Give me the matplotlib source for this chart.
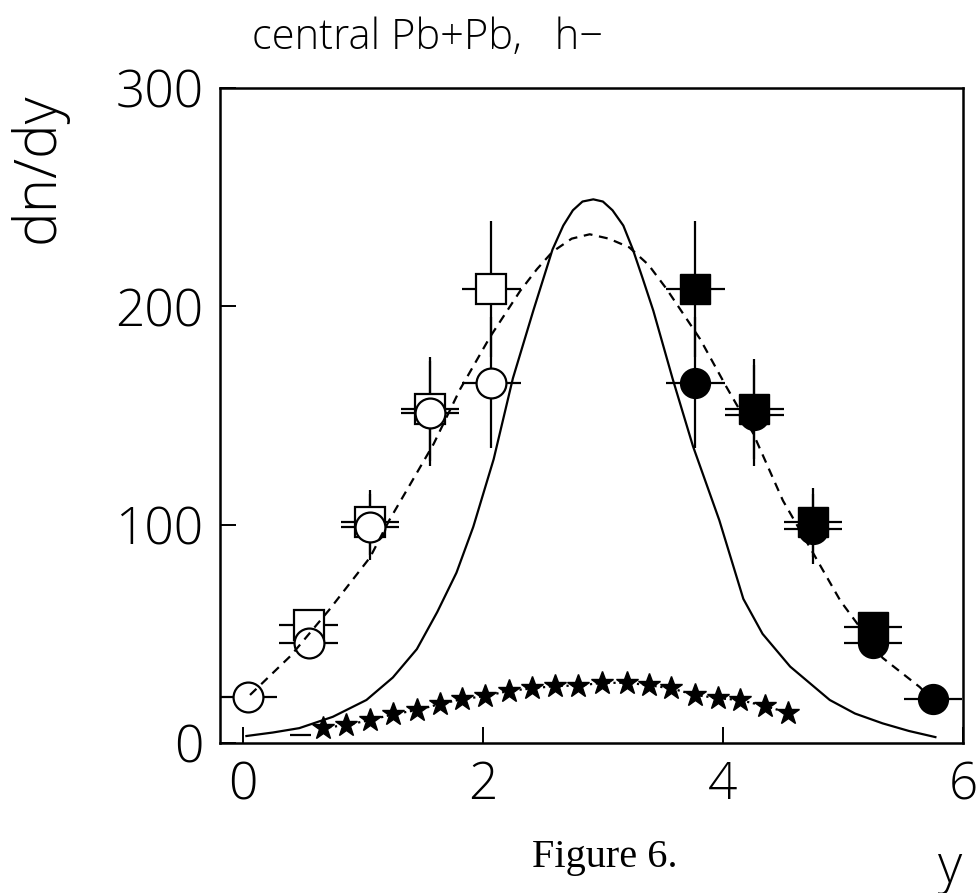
import numpy as np
import matplotlib
matplotlib.use("Agg")
import matplotlib.pyplot as plt

# open symbols (left side, measured) and filled symbols (reflected)
x_open_sq = [0.55, 1.06, 1.56, 2.07]
y_open_sq = [54, 101, 153, 208]
e_open_sq = [6, 15, 24, 31]

x_open_ci = [0.04, 0.55, 1.06, 1.56, 2.07]
y_open_ci = [21, 46, 99, 151, 165]
e_open_ci = [0, 6, 15, 24, 30]

x_fill_sq = [3.77, 4.26, 4.75, 5.25]
y_fill_sq = [208, 153, 101, 53]
e_fill_sq = [31, 23, 16, 6]

x_fill_ci = [3.77, 4.26, 4.75, 5.25, 5.75]
y_fill_ci = [165, 150, 98, 46, 20]
e_fill_ci = [30, 23, 16, 6, 0]

bin_half = 0.245

# stars
x_star = [0.67, 0.86, 1.06, 1.25, 1.45, 1.64, 1.83, 2.02, 2.22, 2.41, 2.6,
          2.79, 2.99, 3.2, 3.38, 3.57, 3.77, 3.96, 4.14, 4.35, 4.54]
y_star = [6.9, 8.2, 10.5, 13.1, 15.1, 17.8, 20.1, 21.5, 23.9, 25.0, 26.1,
          26.3, 27.5, 27.6, 26.5, 25.0, 22.0, 20.5, 19.7, 16.9, 13.9]
x_star_dash = [0.48]
y_star_dash = [3.7]

# solid curve
x_solid = [0.03, 0.25, 0.47, 0.75, 1.03, 1.25, 1.45, 1.62, 1.78, 1.92, 2.09,
           2.25, 2.42, 2.5, 2.58, 2.67, 2.75, 2.83, 2.92, 3.0, 3.08, 3.17,
           3.25, 3.33, 3.42, 3.58, 3.75, 3.97, 4.17, 4.33, 4.56, 4.89, 5.1,
           5.33, 5.55, 5.77]
y_solid = [3.2, 4.8, 6.8, 12, 19.7, 30, 43, 60, 78, 99, 130, 167, 198, 212,
           226, 237, 244, 248, 249, 248, 244, 237, 226, 213, 198, 167, 136,
           102, 66, 50, 35, 19.7, 13.5, 9, 5.5, 2.7]

# dashed curve
x_dash = [0.06, 0.4, 0.72, 1.06, 1.22, 1.4, 1.59, 1.81, 2.06, 2.31, 2.45,
          2.58, 2.74, 2.89, 3.05, 3.22, 3.38, 3.53, 3.81, 4.03, 4.25, 4.5,
          4.72, 4.98, 5.33, 5.64, 5.74]
y_dash = [22, 40, 61, 85, 102, 119, 137, 162, 186, 207, 217, 225, 231, 233,
          231, 227, 219, 208, 185, 163, 142, 111, 90, 65, 39, 25.6, 20]

plt.rcParams['font.family'] = ['Open Sans', 'DejaVu Sans']
plt.rcParams['font.weight'] = 'light'

fig = plt.figure(figsize=(9.8, 8.93), dpi=100)
ax = fig.add_axes([220/980, 150/893, 743/980, 655/893])

ms = 21.5
eb = dict(fmt='none', ecolor='black', elinewidth=1.6, capsize=0, zorder=2)
ax.errorbar(x_open_sq, y_open_sq, xerr=bin_half, yerr=e_open_sq, **eb)
ax.errorbar(x_open_ci, y_open_ci, xerr=bin_half, yerr=e_open_ci, **eb)
ax.errorbar(x_fill_sq, y_fill_sq, xerr=bin_half, yerr=e_fill_sq, **eb)
ax.errorbar(x_fill_ci, y_fill_ci, xerr=bin_half, yerr=e_fill_ci, **eb)
ax.errorbar(x_star_dash, y_star_dash, xerr=0.09, **eb)

ax.plot(x_open_sq, y_open_sq, 's', ms=ms, mfc='white', mec='black', mew=1.6, zorder=3)
ax.plot(x_open_ci, y_open_ci, 'o', ms=ms, mfc='white', mec='black', mew=1.6, zorder=3)
ax.plot(x_fill_sq, y_fill_sq, 's', ms=ms, mfc='black', mec='black', zorder=3)
ax.plot(x_fill_ci, y_fill_ci, 'o', ms=ms, mfc='black', mec='black', zorder=3)

ax.plot(x_solid, y_solid, '-', color='black', lw=1.6, zorder=4)
ax.plot(x_dash, y_dash, '--', color='black', lw=1.6, dashes=(4, 3), zorder=4)
ax.plot(x_star, y_star, ':', color='black', lw=1.6, zorder=4)
ax.plot(x_star, y_star, '*', color='black', ms=17, zorder=5)

ax.set_xlim(-0.19, 6.0)
ax.set_ylim(0, 300)
ax.set_xticks([0, 2, 4, 6])
ax.set_yticks([0, 100, 200, 300])
ax.tick_params(direction='in', length=11.5, width=1.4, labelsize=37,
               top=False, right=False)
ax.tick_params(axis='x', pad=12)
ax.tick_params(axis='y', pad=12)
for s in ax.spines.values():
    s.set_linewidth(1.8)

fig.text(38/980, 1 - 168/893, 'dn/dy', rotation=90, fontsize=42,
         ha='center', va='center')
fig.text(252/980, 1 - 38/893, 'central Pb+Pb,   h\u2212', fontsize=30,
         ha='left', va='center')
fig.text(532/980, 1 - 858/893, 'Figure 6.', fontsize=29,
         family='Liberation Serif', weight='normal', ha='left', va='center')
fig.text(950/980, 1 - 868/893, 'y', fontsize=38, ha='center', va='center')

fig.savefig('out.png', dpi=100)
